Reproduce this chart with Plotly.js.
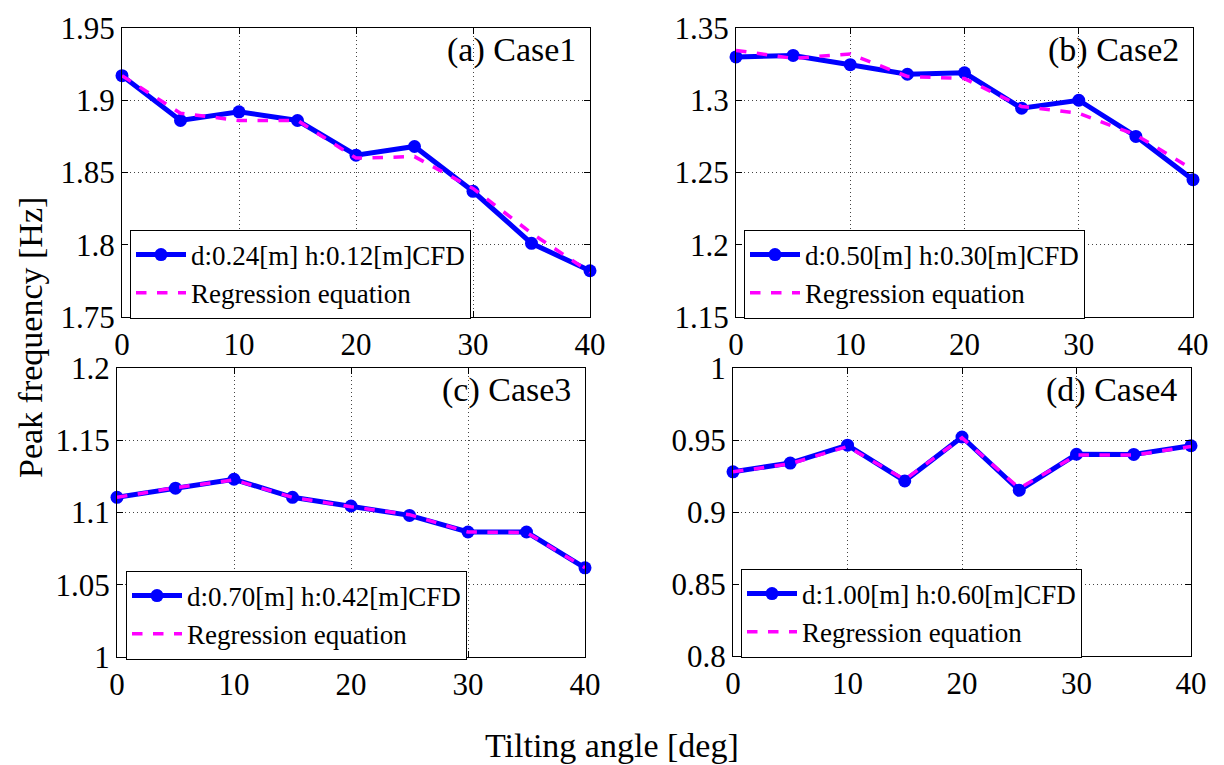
<!DOCTYPE html>
<html>
<head>
<meta charset="utf-8">
<script src="https://cdn.plot.ly/plotly-3.0.1.min.js"></script>
<style>html,body{margin:0;padding:0;background:#fff;}#chart{width:1224px;height:765px;}</style>
</head>
<body>
<div id="chart"></div>
<script>
// ---- data ----
const angles = [0, 5, 10, 15, 20, 25, 30, 35, 40];

const case1CFD = [1.917, 1.886, 1.892, 1.886, 1.862, 1.868, 1.837, 1.801, 1.782];
const case1Reg = [1.917, 1.891, 1.886, 1.886, 1.860, 1.861, 1.839, 1.808, 1.781];

const case2CFD = [1.330, 1.331, 1.3246, 1.318, 1.319, 1.2945, 1.300, 1.275, 1.245];
const case2Reg = [1.3345, 1.329, 1.332, 1.3165, 1.315, 1.2957, 1.291, 1.276, 1.252];

const case3CFD = [1.1105, 1.1168, 1.123, 1.1105, 1.1045, 1.098, 1.0865, 1.0865, 1.0617];
const case3Reg = [1.1105, 1.1172, 1.1225, 1.1105, 1.1040, 1.0985, 1.0865, 1.0862, 1.0617];

const case4CFD = [0.9279, 0.934, 0.9464, 0.9216, 0.9521, 0.9151, 0.9401, 0.940, 0.946];
const case4Reg = [0.9279, 0.9335, 0.9455, 0.9225, 0.9515, 0.9165, 0.9395, 0.9395, 0.9455];

const cfdNames = ['d:0.24[m] h:0.12[m]CFD', 'd:0.50[m] h:0.30[m]CFD', 'd:0.70[m] h:0.42[m]CFD', 'd:1.00[m] h:0.60[m]CFD'];
const regName = 'Regression equation';
const panelLabels = ['(a) Case1', '(b) Case2', '(c) Case3', '(d) Case4'];

const xTickVals = [0, 10, 20, 30, 40];
const xTickText = ['0', '10', '20', '30', '40'];

const yTickVals1 = [1.75, 1.8, 1.85, 1.9, 1.95];
const yTickText1 = ['1.75', '1.8', '1.85', '1.9', '1.95'];
const yTickVals2 = [1.15, 1.2, 1.25, 1.3, 1.35];
const yTickText2 = ['1.15', '1.2', '1.25', '1.3', '1.35'];
const yTickVals3 = [1.0, 1.05, 1.1, 1.15, 1.2];
const yTickText3 = ['1', '1.05', '1.1', '1.15', '1.2'];
const yTickVals4 = [0.8, 0.85, 0.9, 0.95, 1.0];
const yTickText4 = ['0.8', '0.85', '0.9', '0.95', '1'];

const xTitle = 'Tilting angle [deg]';
const yTitle = 'Peak frequency [Hz]';

// ---- build ----
const FONT = 'Liberation Serif';
const cfd = [case1CFD, case2CFD, case3CFD, case4CFD];
const reg = [case1Reg, case2Reg, case3Reg, case4Reg];
const yVals = [yTickVals1, yTickVals2, yTickVals3, yTickVals4];
const yText = [yTickText1, yTickText2, yTickText3, yTickText4];

const W = 1224, H = 765;
// pixel boxes [left, right, top, bottom]
const boxes = [[122, 590, 28, 317], [736, 1193, 28, 317], [117, 585, 368, 657], [733, 1191, 368, 656]];
// legend [left, vertical centre]
const legendPos = [[130, 274], [744, 274], [126, 615], [741, 613]];

const traces = [];
const layout = {
  width: W, height: H,
  margin: {l: 0, r: 0, t: 0, b: 0},
  paper_bgcolor: '#fff', plot_bgcolor: '#fff',
  font: {family: FONT, color: '#000', size: 31},
  annotations: [],
  showlegend: true
};

for (let i = 0; i < 4; i++) {
  const sfx = i === 0 ? '' : String(i + 1);
  const lg = 'legend' + sfx;
  traces.push({
    x: angles, y: cfd[i], xaxis: 'x' + sfx, yaxis: 'y' + sfx,
    type: 'scatter', mode: 'lines+markers', name: cfdNames[i], legend: lg,
    line: {color: '#0000ff', width: 5},
    marker: {color: '#0000ff', size: 13, symbol: 'circle'},
    cliponaxis: false
  });
  traces.push({
    x: angles, y: reg[i], xaxis: 'x' + sfx, yaxis: 'y' + sfx,
    type: 'scatter', mode: 'lines', name: regName, legend: lg,
    line: {color: '#ff00ff', width: 3.5, dash: 'dash'},
    cliponaxis: false
  });
  const b = boxes[i];
  const ya = yVals[i];
  const axCommon = {
    showline: true, linecolor: '#000', linewidth: 1, mirror: 'ticks',
    ticks: 'inside', ticklen: 6, tickcolor: '#000',
    showgrid: true, gridcolor: '#444', griddash: '1px,3px', gridwidth: 1,
    zeroline: false, tickfont: {family: FONT, size: 31, color: '#000'}
  };
  layout['xaxis' + sfx] = Object.assign({}, axCommon, {
    domain: [b[0] / W, b[1] / W], anchor: 'y' + sfx,
    range: [0, 40], tickmode: 'array', tickvals: xTickVals, ticktext: xTickText
  });
  layout['yaxis' + sfx] = Object.assign({}, axCommon, {
    domain: [1 - b[3] / H, 1 - b[2] / H], anchor: 'x' + sfx,
    range: [ya[0], ya[ya.length - 1]], tickmode: 'array', tickvals: ya, ticktext: yText[i]
  });
  const lp = legendPos[i];
  layout[lg] = {
    x: lp[0] / W, y: 1 - lp[1] / H, xref: 'paper', yref: 'paper',
    xanchor: 'left', yanchor: 'middle',
    bgcolor: '#fff', bordercolor: '#000', borderwidth: 1,
    font: {family: FONT, size: 27, color: '#000'},
    tracegroupgap: 0, itemwidth: 50
  };
  layout.annotations.push({
    text: panelLabels[i], xref: 'paper', yref: 'paper',
    x: (b[1] - 12) / W, y: 1 - (b[2] + 22) / H, xanchor: 'right', yanchor: 'middle',
    showarrow: false, font: {family: FONT, size: 34, color: '#000'}
  });
}

layout.annotations.push({
  text: xTitle, xref: 'paper', yref: 'paper', x: 612 / W, y: 1 - 745 / H,
  xanchor: 'center', yanchor: 'middle', showarrow: false,
  font: {family: FONT, size: 34, color: '#000'}
});
layout.annotations.push({
  text: yTitle, xref: 'paper', yref: 'paper', x: 30 / W, y: 1 - 338 / H,
  xanchor: 'center', yanchor: 'middle', showarrow: false, textangle: -90,
  font: {family: FONT, size: 34, color: '#000'}
});

Plotly.newPlot('chart', traces, layout, {displayModeBar: false, staticPlot: true});
</script>
</body>
</html>
